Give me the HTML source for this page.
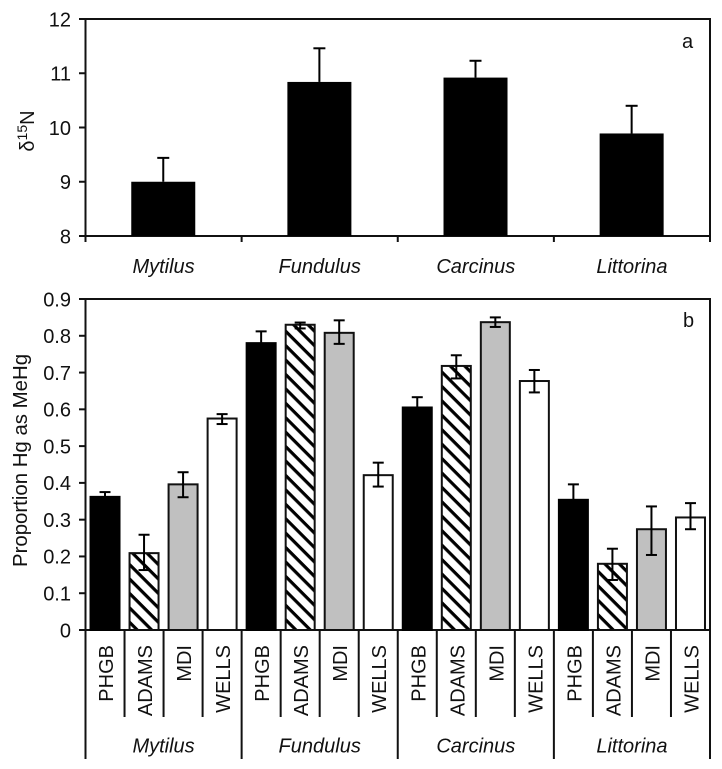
<!DOCTYPE html>
<html lang="en">
<head>
<meta charset="utf-8">
<title>Nitrogen isotope and MeHg proportion bar charts</title>
<style>
html,body{margin:0;padding:0;background:#fff;}
svg{display:block;}
text{font-family:"Liberation Sans",sans-serif;font-size:20px;fill:#111;}
.it{font-style:italic;}
</style>
</head>
<body>
<svg id="chart" width="722" height="769" viewBox="0 0 722 769" xmlns="http://www.w3.org/2000/svg">
  <defs>
    <pattern id="hatch" patternUnits="userSpaceOnUse" width="10.2" height="10.2" patternTransform="rotate(45)">
      <rect width="10.2" height="10.2" fill="#fff"/>
      <rect x="0" y="0" width="10.2" height="3.2" fill="#000"/>
    </pattern>
  </defs>
  <rect width="722" height="769" fill="#fff"/>
  <g id="panel-a"></g>
  <g id="panel-b"></g>
  <text transform="translate(34,131) rotate(-90)" text-anchor="middle">δ<tspan dy="-7" style="font-size:14px">15</tspan><tspan dy="7">N</tspan></text>
  <text transform="translate(27,460.5) rotate(-90)" text-anchor="middle" style="font-size:20.4px">Proportion Hg as MeHg</text>
  <text x="682" y="48">a</text>
  <text x="683" y="327">b</text>
</svg>
<script>
const species = ["Mytilus", "Fundulus", "Carcinus", "Littorina"];
const sites = ["PHGB", "ADAMS", "MDI", "WELLS"];

const aTicks = [8, 9, 10, 11, 12];
const aValues = [9.0, 10.84, 10.92, 9.89];
const aErrorTops = [9.44, 11.46, 11.23, 10.40];

const bTicks = [0, 0.1, 0.2, 0.3, 0.4, 0.5, 0.6, 0.7, 0.8, 0.9];
const bValues = [
  0.362, 0.209, 0.396, 0.575,
  0.780, 0.830, 0.808, 0.421,
  0.605, 0.718, 0.837, 0.677,
  0.354, 0.180, 0.274, 0.306
];
const bErrorTops = [
  0.375, 0.259, 0.429, 0.587,
  0.812, 0.836, 0.842, 0.455,
  0.633, 0.747, 0.850, 0.707,
  0.396, 0.221, 0.336, 0.345
];
const bErrorBottoms = [
  0.349, 0.163, 0.361, 0.560,
  0.748, 0.820, 0.778, 0.390,
  0.577, 0.684, 0.824, 0.646,
  0.312, 0.136, 0.204, 0.274
];

const NS = "http://www.w3.org/2000/svg";
const INK = "#111";
const LEFT = 85.5, RIGHT = 710;
const groupW = (RIGHT - LEFT) / species.length;
const siteW = groupW / sites.length;

const A = { top: 19, bottom: 236, min: 8, max: 12 };
const B = { top: 299, bottom: 630, min: 0, max: 0.9 };

function yA(v) { return A.bottom - (v - A.min) / (A.max - A.min) * (A.bottom - A.top); }
function yB(v) { return B.bottom - (v - B.min) / (B.max - B.min) * (B.bottom - B.top); }
function xGroup(i) { return LEFT + groupW * i; }
function xSite(i) { return LEFT + siteW * i; }

function make(parent, tag, attrs, text) {
  const el = document.createElementNS(NS, tag);
  for (const k in attrs) el.setAttribute(k, attrs[k]);
  if (text !== undefined) el.textContent = text;
  parent.appendChild(el);
  return el;
}
function ln(parent, x1, y1, x2, y2, w, color) {
  return make(parent, "line", { x1: x1, y1: y1, x2: x2, y2: y2, stroke: color || INK, "stroke-width": w });
}

const pa = document.getElementById("panel-a");
const pb = document.getElementById("panel-b");

/* Panel a frame and axes */
const aFrame = make(pa, "rect", { x: LEFT, y: A.top, width: RIGHT - LEFT, height: A.bottom - A.top, fill: "none", stroke: INK, "stroke-width": 2 });



aTicks.forEach(function (t) {
  const tick = ln(pa, 79, yA(t), LEFT, yA(t), 2);
  
  
  const label = make(pa, "text", { x: 71, y: yA(t) + 7.3, "text-anchor": "end" }, String(t));
  
  
});

for (let i = 0; i <= species.length; i++) {
  const tick = ln(pa, xGroup(i), A.bottom, xGroup(i), A.bottom + 6, 2);
  
  
}

species.forEach(function (name, i) {
  const cx = xGroup(i) + groupW / 2 - 0.3;
  const w = 64;
  const bar = make(pa, "rect", { x: cx - w / 2, y: yA(aValues[i]), width: w, height: A.bottom - yA(aValues[i]), fill: "#000" });
  
  
  const stem = ln(pa, cx, yA(aErrorTops[i]), cx, yA(aValues[i]), 2, "#000");
  
  
  const cap = ln(pa, cx - 6, yA(aErrorTops[i]), cx + 6, yA(aErrorTops[i]), 2, "#000");
  
  
  const label = make(pa, "text", { x: xGroup(i) + groupW / 2, y: 273, "text-anchor": "middle", class: "it" }, name);
  
  
});

/* Panel b frame and axes */
const bFrame = make(pb, "rect", { x: LEFT, y: B.top, width: RIGHT - LEFT, height: B.bottom - B.top, fill: "none", stroke: INK, "stroke-width": 2 });



bTicks.forEach(function (t) {
  const tick = ln(pb, 79, yB(t), LEFT, yB(t), 2);
  
  
  const label = make(pb, "text", { x: 71, y: yB(t) + 7.3, "text-anchor": "end" }, String(t));
  
  
});

const fills = ["#000", "url(#hatch)", "#c0c0c0", "#fff"];
const strokes = ["#000", "#111", "#111", "#111"];

bValues.forEach(function (v, i) {
  const cx = xSite(i) + siteW / 2;
  const site = sites[i % sites.length];
  const w = 29;
  const bar = make(pb, "rect", { x: cx - w / 2, y: yB(v), width: w, height: B.bottom - yB(v), fill: fills[i % fills.length], stroke: strokes[i % strokes.length], "stroke-width": 2 });
  
  

  const stem = ln(pb, cx, yB(bErrorTops[i]), cx, yB(bErrorBottoms[i]), 2, "#000");
  
  
  const capTop = ln(pb, cx - 5.5, yB(bErrorTops[i]), cx + 5.5, yB(bErrorTops[i]), 2, "#000");
  
  
  const capBottom = ln(pb, cx - 5.5, yB(bErrorBottoms[i]), cx + 5.5, yB(bErrorBottoms[i]), 2, "#000");
  
  

  const label = make(pb, "text", { transform: "translate(" + (cx + 8) + ",645) rotate(-90)", "text-anchor": "end" }, site);
  
  
});

for (let i = 0; i <= bValues.length; i++) {
  const isGroupEdge = i % sites.length === 0;
  const sep = ln(pb, xSite(i), B.bottom, xSite(i), isGroupEdge ? 759 : 717, 2);
  
  
}

species.forEach(function (name, i) {
  const label = make(pb, "text", { x: xGroup(i) + groupW / 2, y: 752.5, "text-anchor": "middle", class: "it" }, name);
  
  
});
</script>
</body>
</html>
